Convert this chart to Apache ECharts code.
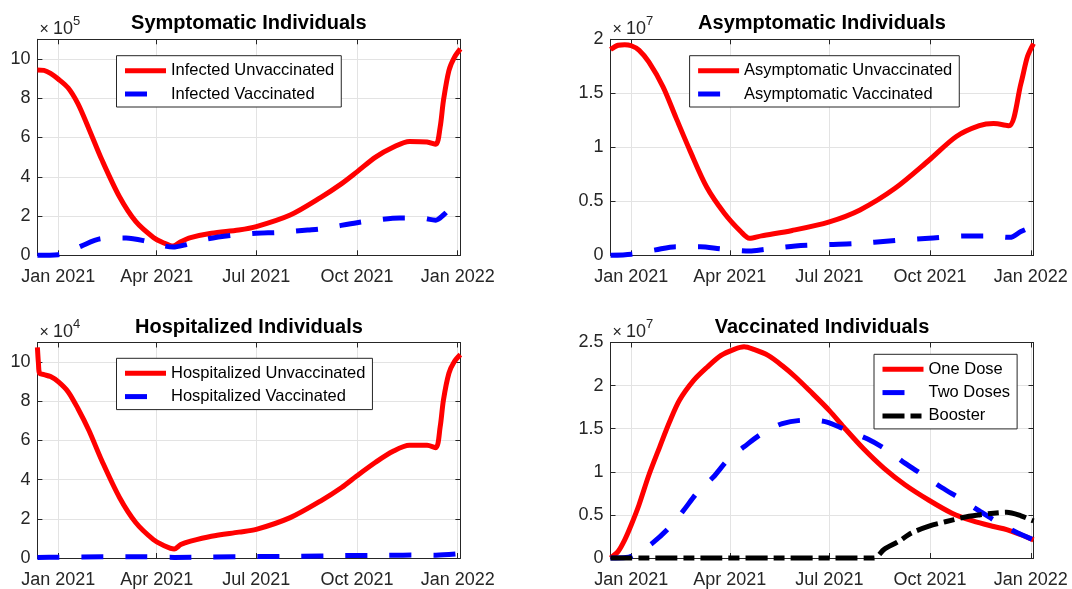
<!DOCTYPE html>
<html>
<head>
<meta charset="utf-8">
<script src="https://cdn.jsdelivr.net/npm/echarts@6/dist/echarts.min.js"></script>
<style>html,body{margin:0;padding:0;background:#fff}#c{width:1072px;height:589px}</style>
</head>
<body>
<div id="c"></div>
<script>
// ---------- DATA (x = days counted from 1 Jan 2021) ----------
const xTickDays = [0, 90, 181, 273, 365];
const xTickLabels = ['Jan 2021', 'Apr 2021', 'Jul 2021', 'Oct 2021', 'Jan 2022'];
const xMinDay = -19, xMaxDay = 367.5;

// Symptomatic (x 1e5)
const symUnvacDays = [-19, -13, -7, 0, 9, 18, 28, 40, 56, 71, 87, 96, 105, 112, 121, 140, 165, 181, 212, 240, 259, 273, 290, 306, 321, 337, 345, 349, 352, 357, 362, 367.5];
const symUnvac = [9.44, 9.42, 9.27, 8.98, 8.53, 7.72, 6.45, 4.85, 2.98, 1.71, 0.91, 0.64, 0.47, 0.69, 0.90, 1.12, 1.29, 1.46, 2.05, 2.95, 3.65, 4.25, 5.0, 5.5, 5.8, 5.77, 5.65, 6.53, 7.88, 9.41, 10.08, 10.51];
const symVacDays = [-19, 0, 9, 21, 40, 62, 81, 96, 105, 115, 134, 159, 181, 203, 228, 240, 273, 290, 312, 331, 345, 352, 360, 367.5];
const symVac = [0.0, 0.03, 0.15, 0.47, 0.85, 0.88, 0.71, 0.49, 0.42, 0.52, 0.81, 1.02, 1.12, 1.17, 1.29, 1.35, 1.66, 1.79, 1.90, 1.90, 1.79, 2.05, 2.47, 2.75];

// Asymptomatic (x 1e7)
const asymUnvacDays = [-19, -12, -6, 0, 7, 16, 29, 41, 54, 69, 85, 100, 108, 119, 147, 181, 209, 241, 272, 297, 318, 331, 345, 356, 362, 367.5];
const asymUnvac = [1.905, 1.945, 1.95, 1.94, 1.90, 1.79, 1.56, 1.27, 0.96, 0.63, 0.39, 0.22, 0.157, 0.18, 0.23, 0.31, 0.42, 0.62, 0.88, 1.10, 1.20, 1.22, 1.20, 1.59, 1.84, 1.96];
const asymVacDays = [-19, 0, 22, 41, 63, 82, 108, 122, 150, 181, 203, 241, 272, 306, 328, 346, 356, 367.5];
const asymVac = [0, 0.01, 0.05, 0.08, 0.08, 0.06, 0.04, 0.055, 0.086, 0.10, 0.108, 0.136, 0.157, 0.179, 0.179, 0.166, 0.22, 0.27];

// Hospitalized (x 1e4)
const hospUnvacDays = [-19, -18, -17, -13, -7, 0, 9, 18, 28, 40, 56, 71, 87, 96, 106, 112, 121, 140, 165, 181, 212, 240, 259, 273, 290, 306, 321, 337, 345, 349, 352, 357, 362, 367.5];
const hospUnvac = [10.75, 9.9, 9.43, 9.36, 9.26, 9.0, 8.49, 7.63, 6.52, 4.95, 3.09, 1.80, 0.94, 0.65, 0.46, 0.69, 0.86, 1.11, 1.32, 1.46, 2.06, 2.92, 3.60, 4.2, 4.89, 5.45, 5.75, 5.75, 5.63, 6.69, 8.06, 9.43, 10.03, 10.38];
const hospVacDays = [-19, 0, 40, 80, 106, 140, 181, 220, 260, 300, 330, 345, 367.5];
const hospVac = [0.02, 0.04, 0.06, 0.06, 0.03, 0.05, 0.07, 0.09, 0.12, 0.14, 0.15, 0.14, 0.22];

// Vaccinated (x 1e7)
const oneDoseDays = [-19, -12, -6, 0, 7, 16, 26, 35, 44, 57, 69, 82, 94, 103, 112, 125, 138, 150, 163, 181, 194, 212, 231, 250, 272, 293, 312, 331, 343, 356, 367.5];
const oneDose = [0, 0.077, 0.21, 0.385, 0.615, 0.96, 1.29, 1.58, 1.83, 2.06, 2.21, 2.35, 2.42, 2.45, 2.42, 2.35, 2.23, 2.10, 1.94, 1.71, 1.52, 1.27, 1.04, 0.85, 0.67, 0.52, 0.43, 0.365, 0.33, 0.27, 0.21];
const twoDoseDays = [-19, -5, 0, 8, 19, 33, 47, 61, 75, 89, 103, 119, 138, 160, 178, 197, 216, 234, 250, 267, 284, 301, 318, 334, 350, 367.5];
const twoDose = [0, 0.005, 0.02, 0.08, 0.17, 0.33, 0.54, 0.77, 0.94, 1.15, 1.29, 1.44, 1.56, 1.60, 1.58, 1.48, 1.38, 1.25, 1.10, 0.96, 0.815, 0.685, 0.546, 0.42, 0.31, 0.21];
const boosterDays = [-19, 200, 215, 222, 231, 244, 256, 272, 287, 303, 318, 331, 343, 356, 367.5];
const booster = [0, 0, 0, 0, 0.10, 0.19, 0.29, 0.37, 0.42, 0.47, 0.50, 0.52, 0.53, 0.49, 0.43];

// ---------- LAYOUT / STYLE ----------
const FONT = '"Liberation Sans", Arial, Helvetica, sans-serif';
const AX = '#262626';
const GRIDC = '#e3e3e3';

const grids = [
  { left: 37.4, top: 39.3, width: 423, height: 216 },
  { left: 610.5, top: 39.3, width: 423, height: 216 },
  { left: 37.4, top: 342.5, width: 423, height: 216 },
  { left: 610.5, top: 342.5, width: 423, height: 216 }
];

const panels = [
  { title: 'Symptomatic Individuals', exp: 5, max: 11, interval: 2, showMax: false,
    legend: { left: 116.5, top: 55.7 },
    series: [
      { name: 'Infected Unvaccinated', days: symUnvacDays, vals: symUnvac, color: '#ff0000', type: 'solid' },
      { name: 'Infected Vaccinated', days: symVacDays, vals: symVac, color: '#0000ff', type: [22, 22] }
    ] },
  { title: 'Asymptomatic Individuals', exp: 7, max: 2, interval: 0.5, showMax: true,
    legend: { left: 689.6, top: 55.7 },
    series: [
      { name: 'Asymptomatic Unvaccinated', days: asymUnvacDays, vals: asymUnvac, color: '#ff0000', type: 'solid' },
      { name: 'Asymptomatic Vaccinated', days: asymVacDays, vals: asymVac, color: '#0000ff', type: [22, 22] }
    ] },
  { title: 'Hospitalized Individuals', exp: 4, max: 11, interval: 2, showMax: false,
    legend: { left: 116.5, top: 358.3 },
    series: [
      { name: 'Hospitalized Unvaccinated', days: hospUnvacDays, vals: hospUnvac, color: '#ff0000', type: 'solid' },
      { name: 'Hospitalized Vaccinated', days: hospVacDays, vals: hospVac, color: '#0000ff', type: [22, 22] }
    ] },
  { title: 'Vaccinated Individuals', exp: 7, max: 2.5, interval: 0.5, showMax: true,
    legend: { left: 874, top: 354.3 },
    series: [
      { name: 'One Dose', days: oneDoseDays, vals: oneDose, color: '#ff0000', type: 'solid' },
      { name: 'Two Doses', days: twoDoseDays, vals: twoDose, color: '#0000ff', type: [22, 22] },
      { name: 'Booster', days: boosterDays, vals: booster, color: '#000000', type: [22, 6, 11, 6] }
    ] }
];

const fmtNum = v => String(Math.round(v * 100) / 100);
const xLabel = v => {
  let best = 0, bd = Infinity;
  xTickDays.forEach((t, i) => { const d = Math.abs(t - v); if (d < bd) { bd = d; best = i; } });
  return xTickLabels[best];
};

const option = {
  animation: false,
  backgroundColor: '#ffffff',
  textStyle: { fontFamily: FONT },
  grid: grids.map(g => Object.assign({ containLabel: false }, g)),
  title: [], legend: [], xAxis: [], yAxis: [], series: [], graphic: []
};

panels.forEach((p, i) => {
  const g = grids[i];
  const scale = Math.pow(10, p.exp);
  option.xAxis.push({
    gridIndex: i, type: 'value', min: xMinDay, max: xMaxDay, position: 'bottom',
    axisLine: { show: true, onZero: false, lineStyle: { color: AX, width: 1 } },
    axisTick: { show: true, inside: true, length: 5, customValues: xTickDays, lineStyle: { color: AX } },
    axisLabel: { show: true, customValues: xTickDays, formatter: xLabel, fontSize: 18, color: AX, margin: 13, fontFamily: FONT },
    splitLine: { show: true, lineStyle: { color: GRIDC, width: 1 } }
  });
  option.xAxis.push({
    gridIndex: i, type: 'value', min: xMinDay, max: xMaxDay, position: 'top',
    axisLine: { show: true, onZero: false, lineStyle: { color: AX, width: 1 } },
    axisTick: { show: true, inside: true, length: 5, customValues: xTickDays, lineStyle: { color: AX } },
    axisLabel: { show: false },
    splitLine: { show: false }
  });
  option.yAxis.push({
    gridIndex: i, type: 'value', min: 0, max: p.max * scale, interval: p.interval * scale, position: 'left',
    axisLine: { show: true, onZero: false, lineStyle: { color: AX, width: 1 } },
    axisTick: { show: true, inside: true, length: 5, lineStyle: { color: AX } },
    axisLabel: { show: true, formatter: v => fmtNum(v / scale), fontSize: 18, color: AX, margin: 7, fontFamily: FONT, showMaxLabel: p.showMax, showMinLabel: true },
    splitLine: { show: true, lineStyle: { color: GRIDC, width: 1 } }
  });
  option.yAxis.push({
    gridIndex: i, type: 'value', min: 0, max: p.max * scale, interval: p.interval * scale, position: 'right',
    axisLine: { show: true, onZero: false, lineStyle: { color: AX, width: 1 } },
    axisTick: { show: true, inside: true, length: 5, lineStyle: { color: AX } },
    axisLabel: { show: false },
    splitLine: { show: false }
  });

  p.series.forEach(s => {
    option.series.push({
      name: s.name, type: 'line', xAxisIndex: 2 * i, yAxisIndex: 2 * i,
      data: s.days.map((d, k) => [d, s.vals[k] * scale]),
      symbol: 'none', showSymbol: false, smooth: 0.3, clip: false,
      lineStyle: { color: s.color, width: 5, type: s.type, cap: 'butt', join: 'round' },
      itemStyle: { color: s.color },
      emphasis: { disabled: true }, z: 3
    });
  });

  option.legend.push({
    data: p.series.map(s => s.name),
    left: p.legend.left, top: p.legend.top, orient: 'vertical',
    itemWidth: 41, itemHeight: 20, itemGap: 3.3,
    padding: [5, 7, 3, 6],
    borderColor: AX, borderWidth: 1, backgroundColor: '#ffffff',
    textStyle: { fontSize: 16.5, color: '#000000', fontFamily: FONT, lineHeight: 20 },
    lineStyle: { width: 5 },
    itemStyle: { opacity: 0, borderWidth: 0 },
    selectedMode: false, z: 10
  });

  const cx = g.left + g.width / 2;
  option.title.push({
    text: p.title, left: cx, top: g.top - 25.5, textAlign: 'center', padding: 0,
    textStyle: { fontSize: 20, fontWeight: 'bold', color: '#000000', fontFamily: FONT }
  });

  option.graphic.push(
    { type: 'text', x: g.left + 2, y: g.top - 9.5, silent: true,
      style: { text: '×', font: '16px ' + FONT, fill: AX, textAlign: 'left', textVerticalAlign: 'middle' } },
    { type: 'text', x: g.left + 15.5, y: g.top - 10.5, silent: true,
      style: { text: '10', font: '18px ' + FONT, fill: AX, textAlign: 'left', textVerticalAlign: 'middle' } },
    { type: 'text', x: g.left + 35.5, y: g.top - 18, silent: true,
      style: { text: String(p.exp), font: '13px ' + FONT, fill: AX, textAlign: 'left', textVerticalAlign: 'middle' } }
  );
});

const chart = echarts.init(document.getElementById('c'), null, { renderer: 'canvas' });
chart.setOption(option);
</script>
</body>
</html>
